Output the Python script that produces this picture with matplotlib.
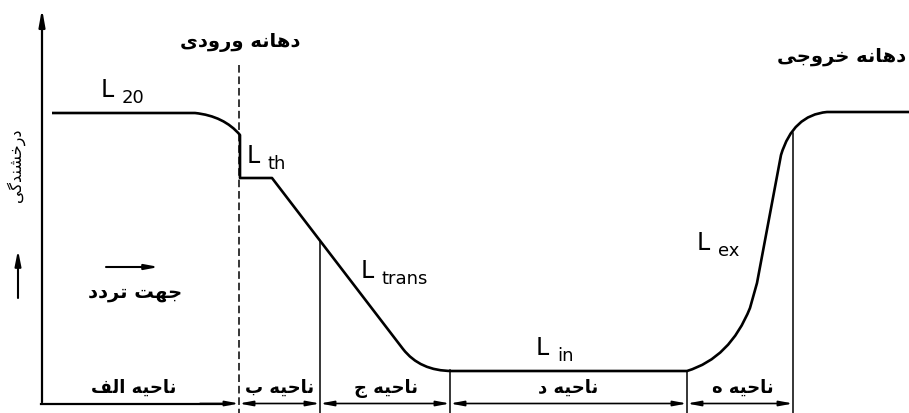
import matplotlib
matplotlib.use("Agg")
import matplotlib.pyplot as plt
from matplotlib.path import Path
from matplotlib.patches import PathPatch

# --- data (distance along tunnel / luminance, drawing units: y grows downward) ---
# luminance curve nodes and segment kinds
curve_x = [52, 195, 224, 240, 240, 272, 403, 420, 452, 687, 730, 750, 757, 781, 793, 827, 909]
curve_y = [113, 113, 116, 135, 178, 178, 349, 371, 371, 371, 358, 308, 283, 155, 115, 112, 112]
curve_kind = ['M', 'L', 'Q', 'Q', 'L', 'L', 'L', 'Q', 'Q', 'L', 'Q', 'Q', 'L', 'L', 'Q', 'Q', 'L']

# zone boundaries along the tunnel and where each boundary meets the curve
zone_edges = [239, 320, 450, 687, 793]
zone_tops = [65, 241, 370, 371, 133]
zone_labels = ['ناحیه الف', 'ناحیه ب', 'ناحیه ج', 'ناحیه د', 'ناحیه ه']
zone_label_x = [134, 280, 386, 568, 743]

# luminance level labels: subscript, x, baseline y
lum_names = ['20', 'th', 'trans', 'in', 'ex']
lum_x = [101, 247, 361, 536, 697]
lum_y = [97, 163, 278, 355, 250]

entry_label = 'دهانه ورودی'
exit_label = 'دهانه خروجی'
traffic_label = 'جهت تردد'
y_label = 'درخشندگی'

# --- simple Persian shaping (presentation forms + right-to-left order) ---
FORMS = {
    'ا': ('\uFE8D', '\uFE8E', None, None),
    'ب': ('\uFE8F', '\uFE90', '\uFE91', '\uFE92'),
    'ت': ('\uFE95', '\uFE96', '\uFE97', '\uFE98'),
    'ج': ('\uFE9D', '\uFE9E', '\uFE9F', '\uFEA0'),
    'ح': ('\uFEA1', '\uFEA2', '\uFEA3', '\uFEA4'),
    'خ': ('\uFEA5', '\uFEA6', '\uFEA7', '\uFEA8'),
    'د': ('\uFEA9', '\uFEAA', None, None),
    'ر': ('\uFEAD', '\uFEAE', None, None),
    'ش': ('\uFEB5', '\uFEB6', '\uFEB7', '\uFEB8'),
    'ف': ('\uFED1', '\uFED2', '\uFED3', '\uFED4'),
    'ل': ('\uFEDD', '\uFEDE', '\uFEDF', '\uFEE0'),
    'ن': ('\uFEE5', '\uFEE6', '\uFEE7', '\uFEE8'),
    'ه': ('\uFEE9', '\uFEEA', '\uFEEB', '\uFEEC'),
    'و': ('\uFEED', '\uFEEE', None, None),
    'ی': ('\uFBFC', '\uFBFD', '\uFBFE', '\uFBFF'),
    'گ': ('\uFB92', '\uFB93', '\uFB94', '\uFB95'),
}


def fa(text):
    out = []
    for i, ch in enumerate(text):
        if ch not in FORMS:
            out.append(ch)
            continue
        iso, fin, ini, med = FORMS[ch]
        prev = text[i - 1] if i > 0 else ''
        nxt = text[i + 1] if i + 1 < len(text) else ''
        join_prev = prev in FORMS and FORMS[prev][2] is not None
        join_next = ini is not None and nxt in FORMS
        if join_prev and join_next:
            out.append(med)
        elif join_prev:
            out.append(fin)
        elif join_next:
            out.append(ini)
        else:
            out.append(iso)
    return ''.join(reversed(out))


fig = plt.figure(figsize=(9.09, 4.13), dpi=100)
ax = fig.add_axes([0, 0, 1, 1])
ax.set_xlim(0, 909)
ax.set_ylim(413, 0)
ax.axis('off')

FA = dict(family='DejaVu Sans', fontweight='bold', color='black')

# luminance curve
codes_map = {'M': Path.MOVETO, 'L': Path.LINETO, 'Q': Path.CURVE3}
path = Path(list(zip(curve_x, curve_y)), [codes_map[k] for k in curve_kind])
ax.add_patch(PathPatch(path, fill=False, lw=1.9, color='black', capstyle='butt', joinstyle='round'))

# axes
ax.annotate('', xy=(42, 6), xytext=(42, 405),
            arrowprops=dict(arrowstyle='-|>,head_length=1.0,head_width=0.18', lw=1.6, color='black'))
ax.plot([41.2, 230], [403.5, 403.5], color='black', lw=1.6)
ax.annotate('', xy=(zone_edges[0], 403.5), xytext=(200, 403.5),
            arrowprops=dict(arrowstyle='-|>,head_length=0.8,head_width=0.15', lw=1.2, color='black',
                            shrinkA=0, shrinkB=0))

# zone boundaries
ax.plot([zone_edges[0], zone_edges[0]], [zone_tops[0], 413], color='black', lw=1.1, ls=(0, (5, 2.5)))
for x, top in zip(zone_edges[1:], zone_tops[1:]):
    ax.plot([x, x], [top, 413], color='black', lw=1.1)

# dimension arrows between boundaries
for a, b in zip(zone_edges[:-1], zone_edges[1:]):
    ax.annotate('', xy=(b, 403.5), xytext=(a, 403.5),
                arrowprops=dict(arrowstyle='<|-|>,head_length=0.8,head_width=0.15', lw=1.2,
                                color='black', shrinkA=0, shrinkB=0))

for lab, x in zip(zone_labels, zone_label_x):
    ax.text(x, 388, fa(lab), ha='center', va='center', fontsize=13, **FA)

# luminance labels
for name, x, y in zip(lum_names, lum_x, lum_y):
    ax.text(x, y, 'L', ha='left', va='baseline', fontsize=17, family='DejaVu Sans')
    ax.text(x + 21, y + 6, name, ha='left', va='baseline', fontsize=13, family='DejaVu Sans')

# portal and direction labels
ax.text(240, 42, fa(entry_label), ha='center', va='center', fontsize=14, **FA)
ax.text(842, 57, fa(exit_label), ha='center', va='center', fontsize=14, **FA)
ax.text(135, 293, fa(traffic_label), ha='center', va='center', fontsize=14, **FA)
ax.annotate('', xy=(159, 267), xytext=(106, 267),
            arrowprops=dict(arrowstyle='-|>,head_length=0.8,head_width=0.15', lw=1.5, color='black',
                            shrinkA=0, shrinkB=0))

# y label with arrow
ax.text(16, 165, fa(y_label), ha='center', va='center', rotation=90, fontsize=11.5,
        family='DejaVu Sans', color='black')
ax.annotate('', xy=(18, 250), xytext=(18, 298),
            arrowprops=dict(arrowstyle='-|>,head_length=0.9,head_width=0.18', lw=1.5, color='black',
                            shrinkA=0, shrinkB=0))

fig.savefig('out.png', dpi=100, facecolor='white')
